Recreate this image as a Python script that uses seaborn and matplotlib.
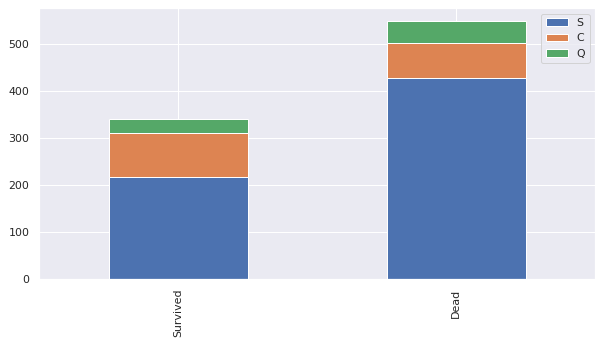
import matplotlib
matplotlib.use("Agg")
import matplotlib.pyplot as plt
import seaborn as sns

# Embarkation port counts split by survival
categories = ["Survived", "Dead"]
ports = ["S", "C", "Q"]
s_counts = [217, 427]
c_counts = [93, 75]
q_counts = [30, 47]

sns.set_theme()
plt.rcParams["font.family"] = ["DejaVu Sans"]

fig = plt.figure(figsize=(602 / 72, 344 / 72), dpi=72)
ax = fig.add_axes([39 / 602, 65 / 344, 556 / 602, 271 / 344])

palette = sns.color_palette()
layers = [s_counts, c_counts, q_counts]
bottom = [0, 0]
for port, vals, col in zip(ports, layers, palette):
    sns.barplot(x=categories, y=vals, bottom=bottom, color=col, width=0.5,
                saturation=1, label=port, edgecolor="white", linewidth=1, ax=ax)
    bottom = [b + v for b, v in zip(bottom, vals)]

ax.xaxis.grid(True)
ax.set_xlim(-0.5, 1.5)
ax.set_ylim(0, max(bottom) * 1.05)
ax.set_yticks(range(0, 600, 100))
ax.tick_params(axis="x", labelrotation=90, labelsize=11)
ax.tick_params(axis="y", labelsize=11)
ax.set_xlabel("")
ax.set_ylabel("")
ax.legend(loc="upper right", fontsize=11)

fig.savefig("out.png", dpi=72)
